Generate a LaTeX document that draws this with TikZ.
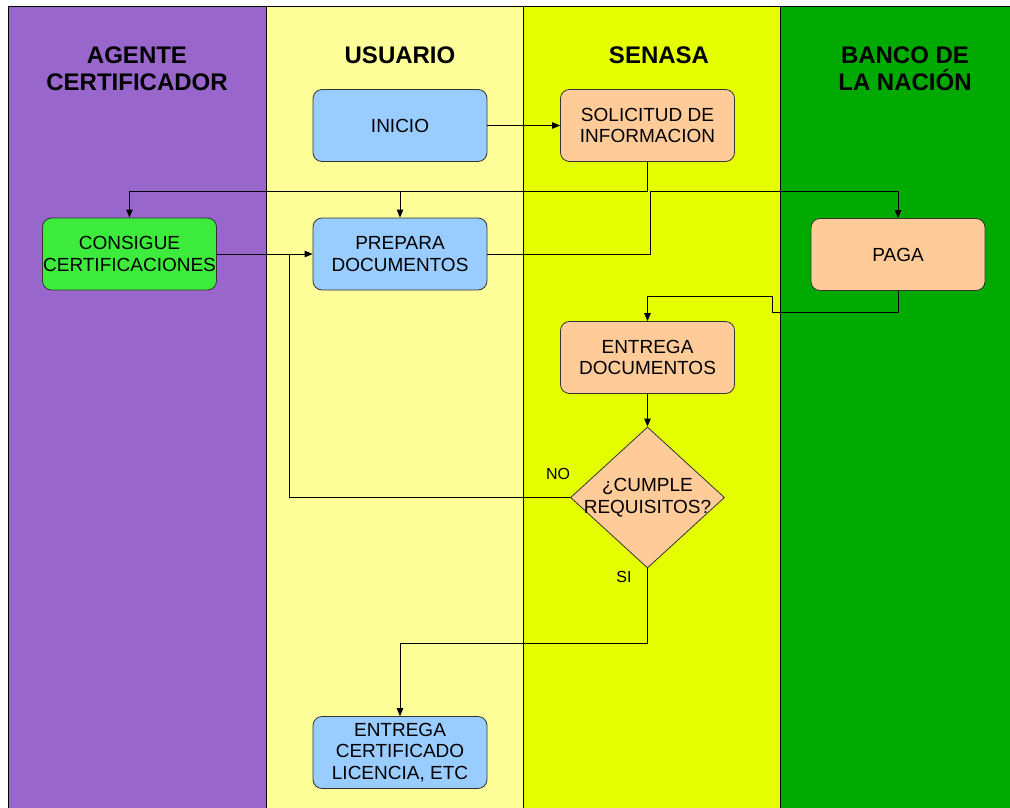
\documentclass[tikz,border=0pt]{standalone}
\usepackage{fontspec}
\setmainfont{Liberation Sans}
\usetikzlibrary{shapes.geometric,arrows.meta}
\definecolor{lanepurple}{RGB}{153,102,204}
\definecolor{laneyellow}{RGB}{255,255,153}
\definecolor{lanelime}{RGB}{230,255,0}
\definecolor{lanegreen}{RGB}{0,170,0}
\definecolor{boxblue}{RGB}{153,204,255}
\definecolor{boxorange}{RGB}{255,204,153}
\definecolor{boxgreen}{RGB}{60,235,60}
\begin{document}
\begin{tikzpicture}[x=1pt,y=-1pt,
 lane/.style={draw=black,line width=0.8pt},
 title/.style={font=\fontsize{24}{27}\selectfont\bfseries,align=center,text=black,inner sep=0pt},
 box/.style={rounded corners=9pt,draw=black!80,line width=0.8pt,minimum width=174pt,minimum height=72pt,inner sep=0pt,align=center,font=\fontsize{19}{21.5}\selectfont},
 dia/.style={diamond,draw=black!80,fill=boxorange,line width=0.8pt,minimum width=154pt,minimum height=141pt,inner sep=0pt},
 diatext/.style={align=center,inner sep=0pt,font=\fontsize{19}{21.5}\selectfont},
 lbl/.style={font=\fontsize{16}{18}\selectfont,inner sep=0pt},
 conn/.style={draw=black,line width=0.8pt},
 arr/.style={conn,-{Triangle[length=8pt,width=6.5pt]}}
]
\useasboundingbox (0,0) rectangle (1010,807);
\fill[white] (0,0) rectangle (1010,807);
% lanes
\filldraw[lane,fill=lanepurple] (8,6) rectangle (266,830);
\filldraw[lane,fill=laneyellow] (266,6) rectangle (523,830);
\filldraw[lane,fill=lanelime] (523,6) rectangle (780,830);
\filldraw[lane,fill=lanegreen] (780,6) rectangle (1030,830);
% titles
\node[title] (t1) at (137,69) {AGENTE\\CERTIFICADOR};
\node[title] (t2) at (400,55) {USUARIO};
\node[title] (t3) at (659,55) {SENASA};
\node[title] (t4) at (905,69) {BANCO DE\\LA NACIÓN};
% nodes
\node[box,fill=boxblue] (inicio) at (400,125.5) {INICIO};
\node[box,fill=boxorange] (solic) at (647.5,125.5) {SOLICITUD DE\\INFORMACION};
\node[box,fill=boxgreen] (consigue) at (129.5,254) {CONSIGUE\\CERTIFICACIONES};
\node[box,fill=boxblue] (prepara) at (400,254) {PREPARA\\DOCUMENTOS};
\node[box,fill=boxorange] (paga) at (898,254.5) {PAGA};
\node[box,fill=boxorange] (entdoc) at (647.5,357.5) {ENTREGA\\DOCUMENTOS};
\node[dia] (cumple) at (647.5,497.5) {};
\node[diatext] (cumpletxt) at (cumple.center) {¿CUMPLE\\REQUISITOS?};
\node[box,fill=boxblue] (entcert) at (400,752.5) {ENTREGA\\CERTIFICADO\\LICENCIA, ETC};
\node[lbl] (no) at (558,474) {NO};
\node[lbl] (si) at (624,577) {SI};
% connectors
\coordinate (jtop) at (647.5,191);
\coordinate (jr) at (650,191);
\coordinate (p1) at (772,312);
\coordinate (p2) at (772,296);
\coordinate (nojoin) at (289,254);
\coordinate (sijoin) at (400,643);
\draw[arr] (inicio.east) -- (solic.west);
\draw[arr] (solic.south) -- (jtop) -| (consigue.north);
\draw[arr] (prepara.north |- jtop) -- (prepara.north);
\draw[arr] (prepara.east) -| (jr) -| (paga.north);
\draw[arr] (paga.south) |- (p1) -- (p2) -| (entdoc.north);
\draw[arr] (entdoc.south) -- (cumple.north);
\draw[arr] (consigue.east) -- (prepara.west);
\draw[conn] (cumple.west) -| (nojoin);
\draw[arr] (cumple.south) |- (sijoin) -- (entcert.north);
\end{tikzpicture}
\end{document}
